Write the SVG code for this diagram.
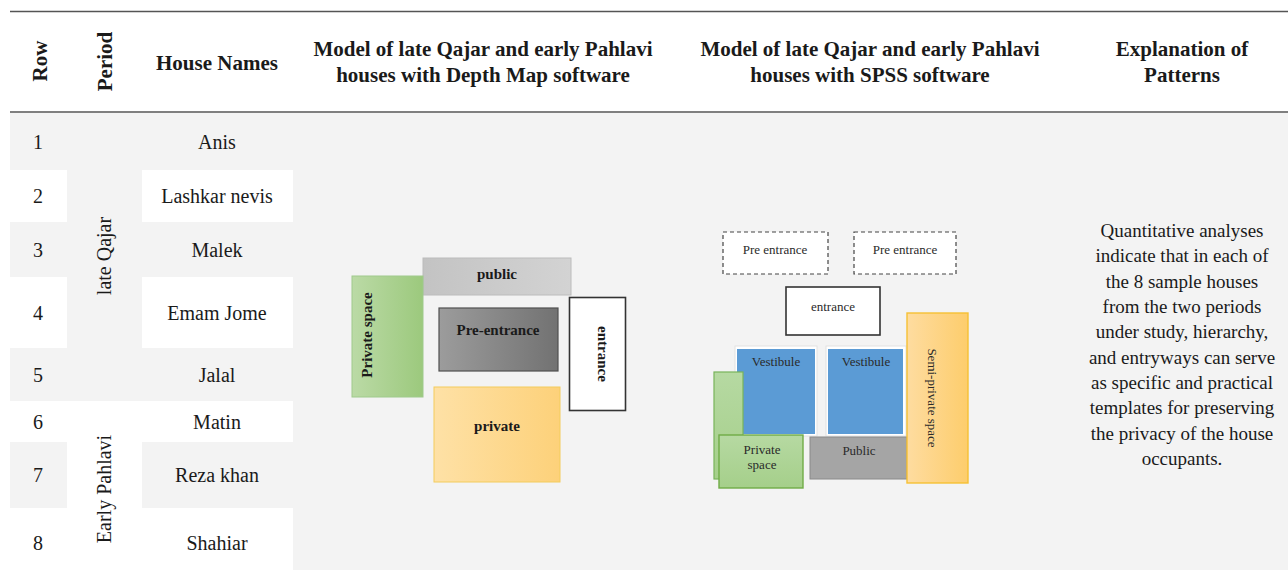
<svg xmlns="http://www.w3.org/2000/svg" width="1288" height="570" viewBox="0 0 1288 570">
<defs>
<style>
.hd{font-family:"Liberation Serif","Times New Roman",serif;font-weight:bold;font-size:21px;fill:#1a1a1a;text-anchor:middle}
.bd{font-family:"Liberation Serif","Times New Roman",serif;font-size:20px;fill:#1a1a1a;text-anchor:middle}
.ex{font-family:"Liberation Serif","Times New Roman",serif;font-size:19px;fill:#1a1a1a;text-anchor:middle}
.db{font-family:"Liberation Serif","Times New Roman",serif;font-weight:bold;font-size:15px;fill:#1a1a1a;text-anchor:middle}
.sp{font-family:"Liberation Serif","Times New Roman",serif;font-size:13px;fill:#2a2a2a;text-anchor:middle}
.rule{stroke:#555;stroke-width:1.6}
</style>
<linearGradient id="gPub" x1="0" y1="0" x2="1" y2="0"><stop offset="0" stop-color="#c3c3c3"/><stop offset="1" stop-color="#d3d3d3"/></linearGradient>
<linearGradient id="gGreen" x1="0" y1="0" x2="1" y2="0"><stop offset="0" stop-color="#bbdaa6"/><stop offset="1" stop-color="#9cc97d"/></linearGradient>
<linearGradient id="gPre" x1="0" y1="0" x2="1" y2="0"><stop offset="0" stop-color="#9c9c9c"/><stop offset="1" stop-color="#727272"/></linearGradient>
<linearGradient id="gYel" x1="0" y1="0" x2="1" y2="0"><stop offset="0" stop-color="#fee1a6"/><stop offset="1" stop-color="#fdd17a"/></linearGradient>
<linearGradient id="gGreen2" x1="0" y1="0" x2="0" y2="1"><stop offset="0" stop-color="#b6d9a2"/><stop offset="1" stop-color="#a5cf8a"/></linearGradient>
<linearGradient id="gYel2" x1="0" y1="0" x2="1" y2="0"><stop offset="0" stop-color="#fedca0"/><stop offset="1" stop-color="#fdcd6c"/></linearGradient>
</defs>
<rect x="0" y="0" width="1288" height="570" fill="#ffffff"/>

<g id="table">
<rect x="10" y="113" width="1278" height="457" fill="#f3f3f3"/>
<rect x="10" y="170" width="57" height="52" fill="#ffffff"/>
<rect x="10" y="277" width="57" height="71" fill="#ffffff"/>
<rect x="10" y="401" width="57" height="41" fill="#ffffff"/>
<rect x="10" y="508" width="57" height="62" fill="#ffffff"/>
<rect x="67" y="401" width="75" height="169" fill="#ffffff"/>
<rect x="142" y="170" width="151" height="52" fill="#ffffff"/>
<rect x="142" y="277" width="151" height="71" fill="#ffffff"/>
<rect x="142" y="401" width="151" height="41" fill="#ffffff"/>
<rect x="142" y="508" width="151" height="62" fill="#ffffff"/>
<line class="rule" x1="10" y1="11.5" x2="1288" y2="11.5"/>
<line class="rule" x1="10" y1="112" x2="1288" y2="112"/>
</g>

<g id="header">
<text class="hd" transform="translate(47,61) rotate(-90)">Row</text>
<text class="hd" transform="translate(112,61.5) rotate(-90)">Period</text>
<text class="hd" x="217" y="69.5">House Names</text>
<text class="hd" x="483" y="56">Model of late Qajar and early Pahlavi</text>
<text class="hd" x="483" y="82">houses with Depth Map software</text>
<text class="hd" x="870" y="56">Model of late Qajar and early Pahlavi</text>
<text class="hd" x="870" y="82">houses with SPSS software</text>
<text class="hd" x="1182" y="56">Explanation of</text>
<text class="hd" x="1182" y="82">Patterns</text>
</g>

<g id="rows">
<text class="bd" x="38" y="149">1</text>
<text class="bd" x="38" y="203">2</text>
<text class="bd" x="38" y="257">3</text>
<text class="bd" x="38" y="320">4</text>
<text class="bd" x="38" y="382">5</text>
<text class="bd" x="38" y="429">6</text>
<text class="bd" x="38" y="482">7</text>
<text class="bd" x="38" y="550">8</text>
<text class="bd" x="217" y="149">Anis</text>
<text class="bd" x="217" y="203">Lashkar nevis</text>
<text class="bd" x="217" y="257">Malek</text>
<text class="bd" x="217" y="320">Emam Jome</text>
<text class="bd" x="217" y="382">Jalal</text>
<text class="bd" x="217" y="429">Matin</text>
<text class="bd" x="217" y="482">Reza khan</text>
<text class="bd" x="217" y="550">Shahiar</text>
<text class="bd" transform="translate(111,256) rotate(-90)">late Qajar</text>
<text class="bd" transform="translate(111,489) rotate(-90)">Early Pahlavi</text>
</g>

<g id="explanation">
<text class="ex" x="1182" y="237">Quantitative analyses</text>
<text class="ex" x="1182" y="262">indicate that in each of</text>
<text class="ex" x="1182" y="287.5">the 8 sample houses</text>
<text class="ex" x="1182" y="313">from the two periods</text>
<text class="ex" x="1182" y="338">under study, hierarchy,</text>
<text class="ex" x="1182" y="363.5">and entryways can serve</text>
<text class="ex" x="1182" y="389">as specific and practical</text>
<text class="ex" x="1182" y="414">templates for preserving</text>
<text class="ex" x="1182" y="439.5">the privacy of the house</text>
<text class="ex" x="1182" y="465">occupants.</text>
</g>

<g id="depthmap-public">
<rect x="423" y="258" width="148" height="37" fill="url(#gPub)" stroke="#bcbcbc" stroke-width="1"/>
<text class="db" x="497" y="279">public</text>
</g>
<g id="depthmap-private-space">
<rect x="352" y="276" width="71" height="121" fill="url(#gGreen)" stroke="#9fca8c" stroke-width="1"/>
<text class="db" transform="translate(372,335) rotate(-90)">Private space</text>
</g>
<g id="depthmap-pre-entrance">
<rect x="439" y="308" width="119" height="63" fill="url(#gPre)" stroke="#505050" stroke-width="1.2"/>
<text class="db" x="498" y="335">Pre-entrance</text>
</g>
<g id="depthmap-entrance">
<rect x="569.5" y="297.5" width="56" height="113" fill="#ffffff" stroke="#333" stroke-width="1.6"/>
<text class="db" transform="translate(598,354) rotate(90)">entrance</text>
</g>
<g id="depthmap-private">
<rect x="434" y="387" width="126" height="95" fill="url(#gYel)" stroke="#f3cc5c" stroke-width="1"/>
<text class="db" x="497" y="431">private</text>
</g>

<g id="spss-pre-entrance-1">
<rect x="723" y="232" width="105" height="42" fill="#ffffff" stroke="#444" stroke-width="1.2" stroke-dasharray="4,3"/>
<text class="sp" x="775" y="254">Pre entrance</text>
</g>
<g id="spss-pre-entrance-2">
<rect x="854" y="232" width="102" height="42" fill="#ffffff" stroke="#444" stroke-width="1.2" stroke-dasharray="4,3"/>
<text class="sp" x="905" y="254">Pre entrance</text>
</g>
<g id="spss-entrance">
<rect x="786" y="287" width="94" height="48" fill="#ffffff" stroke="#333" stroke-width="1.6"/>
<text class="sp" x="833" y="311">entrance</text>
</g>
<g id="spss-vestibule-1">
<rect x="735" y="346" width="82" height="90" fill="#ffffff" stroke="#e2e2e2" stroke-width="1"/>
<rect x="737" y="349" width="78" height="85" fill="#5b9bd5"/>
<text class="sp" x="776" y="366">Vestibule</text>
</g>
<g id="spss-vestibule-2">
<rect x="826" y="346" width="80" height="90" fill="#ffffff" stroke="#e2e2e2" stroke-width="1"/>
<rect x="828" y="349" width="75" height="85" fill="#5b9bd5"/>
<text class="sp" x="866" y="366">Vestibule</text>
</g>
<g id="spss-private-back">
<rect x="714" y="372" width="29" height="107" fill="url(#gGreen2)" stroke="#78b45a" stroke-width="1.2"/>
</g>
<g id="spss-private-space">
<rect x="719" y="435" width="84" height="53" fill="url(#gGreen2)" stroke="#6fac46" stroke-width="1.4"/>
<text class="sp" x="762" y="454">Private</text>
<text class="sp" x="762" y="469">space</text>
</g>
<g id="spss-public">
<rect x="810" y="437" width="97" height="42" fill="#a5a5a5" stroke="#8a8a8a" stroke-width="1"/>
<text class="sp" x="859" y="455">Public</text>
</g>
<g id="spss-semi-private">
<rect x="907" y="313" width="61" height="170" fill="url(#gYel2)" stroke="#f6c034" stroke-width="1.4"/>
<text class="sp" transform="translate(928,398) rotate(90)">Semi-private space</text>
</g>

<g id="connectors"/>
</svg>
